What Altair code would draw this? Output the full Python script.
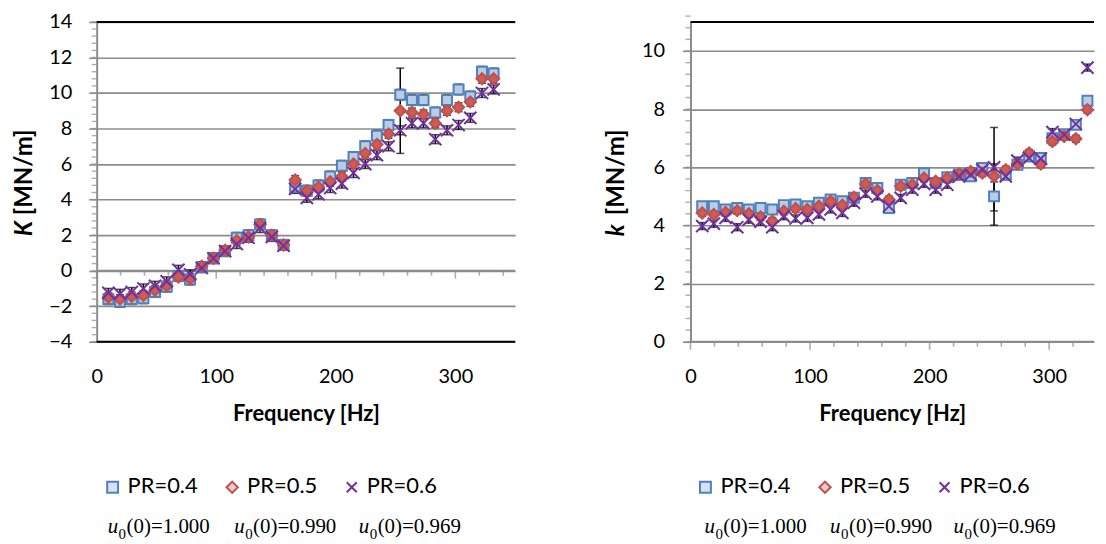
import altair as alt
import pandas as pd

# ---------------- data ----------------
FREQ = [9.8, 19.5, 29.3, 39.1, 48.8, 58.6, 68.4, 78.1, 87.9, 97.7,
        107.4, 117.2, 127.0, 136.7, 146.5, 156.3, 166.0, 175.8, 185.5, 195.3,
        205.1, 214.8, 224.6, 234.4, 244.1, 253.9, 263.7, 273.4, 283.2, 293.0,
        302.7, 312.5, 322.3, 332.0]

SERIES = ["PR=0.4", "PR=0.5", "PR=0.6"]
U0 = ["1.000", "0.990", "0.969"]

# Left panel: K [MN/m]
K_PR04 = [-1.6, -1.75, -1.6, -1.55, -1.2, -0.9, -0.3, -0.5, 0.2, 0.7,
          1.1, 1.85, 2.0, 2.6, 2.0, 1.45, 4.7, 4.5, 4.8, 5.3,
          5.9, 6.4, 7.0, 7.6, 8.2, 9.9, 9.6, 9.6, 8.9, 9.6,
          10.2, 9.8, 11.2, 11.1]
K_PR05 = [-1.5, -1.6, -1.45, -1.4, -1.1, -0.85, -0.35, -0.45, 0.25, 0.7,
          1.15, 1.7, 1.9, 2.6, 2.0, 1.45, 5.1, 4.5, 4.7, 5.0,
          5.3, 6.0, 6.6, 7.1, 7.7, 9.0, 8.9, 8.8, 8.3, 9.0,
          9.2, 9.5, 10.8, 10.8]
K_PR06 = [-1.25, -1.3, -1.2, -1.0, -0.85, -0.6, 0.05, -0.2, 0.15, 0.7,
          1.1, 1.5, 1.85, 2.4, 1.9, 1.4, 4.6, 4.1, 4.3, 4.65,
          4.9, 5.5, 6.0, 6.5, 7.0, 7.9, 8.3, 8.3, 7.4, 7.9,
          8.2, 8.6, 10.0, 10.2]
K_ERR04 = [0.3, 0.3, 0.3, 0.3, 0.3, 0.3, 0.3, 0.3, 0.3, 0.3,
           0.3, 0.3, 0.3, 0.3, 0.3, 0.3, 0.3, 0.3, 0.3, 0.3,
           0.3, 0.3, 0.3, 0.3, 0.3, 0.3, 0.3, 0.3, 0.3, 0.3,
           0.3, 0.3, 0.3, 0.3]
K_ERR05 = [0.25, 0.25, 0.25, 0.25, 0.25, 0.25, 0.25, 0.25, 0.25, 0.25,
           0.25, 0.25, 0.25, 0.25, 0.25, 0.25, 0.25, 0.25, 0.25, 0.25,
           0.25, 0.25, 0.25, 0.25, 0.25, 2.4, 0.25, 0.25, 0.25, 0.25,
           0.25, 0.25, 0.25, 0.25]
K_ERR06 = [0.25, 0.25, 0.25, 0.25, 0.25, 0.25, 0.25, 0.25, 0.25, 0.25,
           0.25, 0.25, 0.25, 0.25, 0.25, 0.25, 0.25, 0.25, 0.25, 0.25,
           0.25, 0.25, 0.25, 0.25, 0.25, 0.25, 0.25, 0.25, 0.25, 0.25,
           0.25, 0.25, 0.25, 0.25]

# Right panel: k [MN/m]
k_PR04 = [4.66, 4.66, 4.55, 4.6, 4.55, 4.6, 4.55, 4.7, 4.72, 4.66,
          4.78, 4.89, 4.83, 4.95, 5.46, 5.29, 4.6, 5.4, 5.46, 5.8,
          5.46, 5.66, 5.75, 5.69, 5.98, 5.0, 5.75, 6.09, 6.38, 6.32,
          7.0, 7.14, 7.46, 8.29]
k_PR05 = [4.43, 4.38, 4.45, 4.51, 4.4, 4.29, 4.15, 4.49, 4.58, 4.55,
          4.66, 4.83, 4.7, 4.97, 5.43, 5.2, 4.89, 5.35, 5.4, 5.63,
          5.52, 5.63, 5.77, 5.86, 5.8, 5.69, 5.92, 6.11, 6.49, 6.11,
          6.89, 7.06, 6.98, 7.98]
k_PR06 = [3.98, 4.06, 4.26, 3.94, 4.2, 4.13, 3.94, 4.32, 4.24, 4.26,
          4.38, 4.55, 4.43, 4.78, 5.09, 5.0, 4.66, 4.95, 5.23, 5.43,
          5.23, 5.4, 5.69, 5.75, 5.92, 6.0, 5.69, 6.23, 6.32, 6.3,
          7.21, 7.12, 7.49, 9.43]
k_ERR04 = [0.15, 0.15, 0.15, 0.15, 0.15, 0.15, 0.15, 0.15, 0.15, 0.15,
           0.15, 0.15, 0.15, 0.15, 0.15, 0.15, 0.15, 0.15, 0.15, 0.15,
           0.15, 0.15, 0.15, 0.15, 0.15, 0.5, 0.15, 0.15, 0.15, 0.15,
           0.15, 0.15, 0.15, 0.15]
k_ERR05 = [0.12, 0.12, 0.12, 0.12, 0.12, 0.12, 0.12, 0.12, 0.12, 0.12,
           0.12, 0.12, 0.12, 0.12, 0.12, 0.12, 0.12, 0.12, 0.12, 0.12,
           0.12, 0.12, 0.12, 0.12, 0.12, 1.68, 0.12, 0.12, 0.12, 0.12,
           0.12, 0.12, 0.12, 0.12]
k_ERR06 = [0.12, 0.12, 0.12, 0.12, 0.12, 0.12, 0.12, 0.12, 0.12, 0.12,
           0.12, 0.12, 0.12, 0.12, 0.12, 0.12, 0.12, 0.12, 0.12, 0.12,
           0.12, 0.12, 0.12, 0.12, 0.12, 0.12, 0.12, 0.12, 0.12, 0.12,
           0.12, 0.12, 0.12, 0.12]

X_LABELS = [0, 100, 200, 300]
X_MINOR = [20, 40, 60, 80, 120, 140, 160, 180, 220, 240, 260, 280, 320, 340]
YL_MAJOR = [-4, -2, 0, 2, 4, 6, 8, 10, 12, 14]
YR_MAJOR = [0, 2, 4, 6, 8, 10]

# ---------------- style ----------------
FONT = "Lato"
GRID = "#8c8c8c"
SHAPES = ["square", "diamond", "M-1,-1L1,1M1,-1L-1,1"]
FILLS = ["#b9cde5", "#cf5b55", "#7030a0"]
LEG_FILLS = ["#d5e2f2", "#f0c8c6", "#7030a0"]
STROKES = ["#4f81bd", "#c0504d", "#7030a0"]
SIZES = [100, 150, 110]
LEG_SIZES = [120, 130, 100]


def long_df(vals, errs):
    rows = []
    for s, v, e in zip(SERIES, vals, errs):
        for f, y, er in zip(FREQ, v, e):
            rows.append({"freq": f, "val": y, "lo": y - er, "hi": y + er, "series": s})
    return pd.DataFrame(rows)


def panel(df, ymin, ymax, ymajor, xmax, width, ylab_first, bottom_black,
          ylab_pad, title_x, leg_xs, u0_xs):
    height = 321
    xs = alt.Scale(domain=[0, xmax], nice=False, zero=False)
    ys = alt.Scale(domain=[ymin, ymax], nice=False, zero=False)
    yminor = [round(ymin + 0.4 * i, 1) for i in range(int(round((ymax - ymin) / 0.4)) + 1)]

    xaxis = alt.Axis(values=X_LABELS, ticks=False, tickSize=0, domain=False, grid=False,
                     labelFont=FONT, labelFontSize=20, labelColor="black", labelPadding=25,
                     labelOverlap=False, labelFlush=False,
                     title="Frequency [Hz]", titleFont=FONT, titleFontSize=22,
                     titleFontWeight="bold", titleColor="black", titlePadding=17)
    yaxis = alt.Axis(values=ymajor, grid=True, gridColor=GRID, gridWidth=1.6,
                     domain=True, domainColor=GRID, domainWidth=2,
                     ticks=True, tickSize=8, tickColor=GRID, tickWidth=1.6,
                     labelFont=FONT, labelFontSize=20, labelColor="black",
                     labelOverlap=False, labelFlush=False, labelPadding=ylab_pad, title=None)

    def X(f):
        return alt.X(f, scale=xs, axis=xaxis, title="Frequency [Hz]")

    def Y(f):
        return alt.Y(f, scale=ys, axis=yaxis, title=None)

    def XD(v):
        return alt.datum(v, scale=xs, axis=xaxis, title="Frequency [Hz]")

    def YD(v):
        return alt.datum(v, scale=ys, axis=yaxis, title=None)

    base = alt.Chart(df)
    pts = base.mark_point(filled=True, strokeWidth=2, opacity=1).encode(
        x=X("freq:Q"),
        y=Y("val:Q"),
        shape=alt.Shape("series:N", scale=alt.Scale(domain=SERIES, range=SHAPES), legend=None),
        fill=alt.Fill("series:N", scale=alt.Scale(domain=SERIES, range=FILLS), legend=None),
        stroke=alt.Stroke("series:N", scale=alt.Scale(domain=SERIES, range=STROKES), legend=None),
        size=alt.Size("series:N", scale=alt.Scale(domain=SERIES, range=SIZES), legend=None),
        order=alt.Order("series:N"),
    )

    # error bars
    ebar = base.mark_rule(color="black", strokeWidth=1.5).encode(
        x=X("freq:Q"), y=Y("lo:Q"), y2="hi:Q")
    cap_lo = base.mark_tick(color="black", thickness=1.5, size=8, orient="horizontal").encode(
        x=X("freq:Q"), y=Y("lo:Q"))
    cap_hi = base.mark_tick(color="black", thickness=1.5, size=8, orient="horizontal").encode(
        x=X("freq:Q"), y=Y("hi:Q"))

    # x axis line at y = 0 with ticks
    one = pd.DataFrame({"a": [0]})
    xline = alt.Chart(one).mark_rule(color=GRID, strokeWidth=2).encode(
        x=XD(0), x2=alt.datum(xmax), y=YD(0))
    xmaj = alt.Chart(pd.DataFrame({"v": X_LABELS})).mark_tick(
        color=GRID, thickness=1.6, size=8, orient="vertical", yOffset=4).encode(
        x=X("v:Q"), y=YD(0))
    xmin_ = alt.Chart(pd.DataFrame({"v": [v for v in X_MINOR if v <= xmax]})).mark_tick(
        color=GRID, thickness=1.6, size=5, orient="vertical", yOffset=2.5).encode(
        x=X("v:Q"), y=YD(0))
    ymin_t = alt.Chart(pd.DataFrame({"v": yminor})).mark_tick(
        color=GRID, thickness=1.4, size=5, orient="horizontal").encode(
        x=alt.value(-2.5), y=Y("v:Q"))

    top = alt.Chart(one).mark_rule(color="black", strokeWidth=2).encode(
        x=XD(0), x2=alt.datum(xmax), y=YD(ymax))
    layers = [xline, xmaj, xmin_, ymin_t, top]
    if bottom_black:
        bot = alt.Chart(one).mark_rule(color="black", strokeWidth=2).encode(
            x=XD(0), x2=alt.datum(xmax), y=YD(ymin))
        layers.append(bot)

    # y title: italic symbol + unit
    t1 = alt.Chart(one).mark_text(text=ylab_first, font=FONT, fontSize=24, fontWeight="bold",
                                  fontStyle="italic", angle=270, align="left", baseline="middle",
                                  color="black").encode(x=alt.value(title_x), y=alt.value(215))
    t2 = alt.Chart(one).mark_text(text="[MN/m]", font=FONT, fontSize=24, fontWeight="bold",
                                  angle=270, align="left", baseline="middle",
                                  color="black").encode(x=alt.value(title_x), y=alt.value(194))

    # legend row (symbols + labels)
    leg = []
    for i, (lx, s) in enumerate(zip(leg_xs, SERIES)):
        leg.append(alt.Chart(one).mark_point(shape=SHAPES[i], fill=LEG_FILLS[i], stroke=STROKES[i],
                                             filled=True, strokeWidth=2, size=LEG_SIZES[i],
                                             opacity=1).encode(
            x=alt.value(lx), y=alt.value(467)))
        leg.append(alt.Chart(one).mark_text(text=s, font=FONT, fontSize=22, align="left",
                                            baseline="middle", color="black").encode(
            x=alt.value(lx + 15), y=alt.value(466)))

    # u0(0) legend row
    u0 = []
    for x0, val in zip(u0_xs, U0):
        u0.append(alt.Chart(one).mark_text(text="u", font="Liberation Serif", fontSize=21,
                                           fontStyle="italic", align="left", baseline="alphabetic",
                                           color="black").encode(x=alt.value(x0), y=alt.value(513)))
        u0.append(alt.Chart(one).mark_text(text="0", font="Liberation Serif", fontSize=15,
                                           align="left", baseline="alphabetic",
                                           color="black").encode(x=alt.value(x0 + 11), y=alt.value(519)))
        u0.append(alt.Chart(one).mark_text(text="(0)=" + val, font="Liberation Serif", fontSize=21,
                                           align="left", baseline="alphabetic",
                                           color="black").encode(x=alt.value(x0 + 19), y=alt.value(513)))

    return alt.layer(*layers, ebar, cap_lo, cap_hi, pts, t1, t2, *leg, *u0).properties(
        width=width, height=height)


left = panel(long_df([K_PR04, K_PR05, K_PR06], [K_ERR04, K_ERR05, K_ERR06]),
             -4, 14, YL_MAJOR, 350, 420, "K", True, 17, -72,
             [16, 136, 256], [11, 138, 263])
right = panel(long_df([k_PR04, k_PR05, k_PR06], [k_ERR04, k_ERR05, k_ERR06]),
              0, 11, YR_MAJOR, 337.5, 405, "k", False, 18, -74,
              [15, 135, 255], [14, 140, 264])

chart = alt.hconcat(left, right, spacing=176, bounds="flush").resolve_scale(
    x="independent", y="independent", shape="independent", fill="independent",
    stroke="independent", size="independent").properties(
    padding={"left": 5, "top": 3, "right": 0, "bottom": 0}).configure_view(
    stroke=None).configure_axis(labelOverlap=False, labelFlush=False)

chart.save("out.html", embed_options={"renderer": "svg", "actions": False})
